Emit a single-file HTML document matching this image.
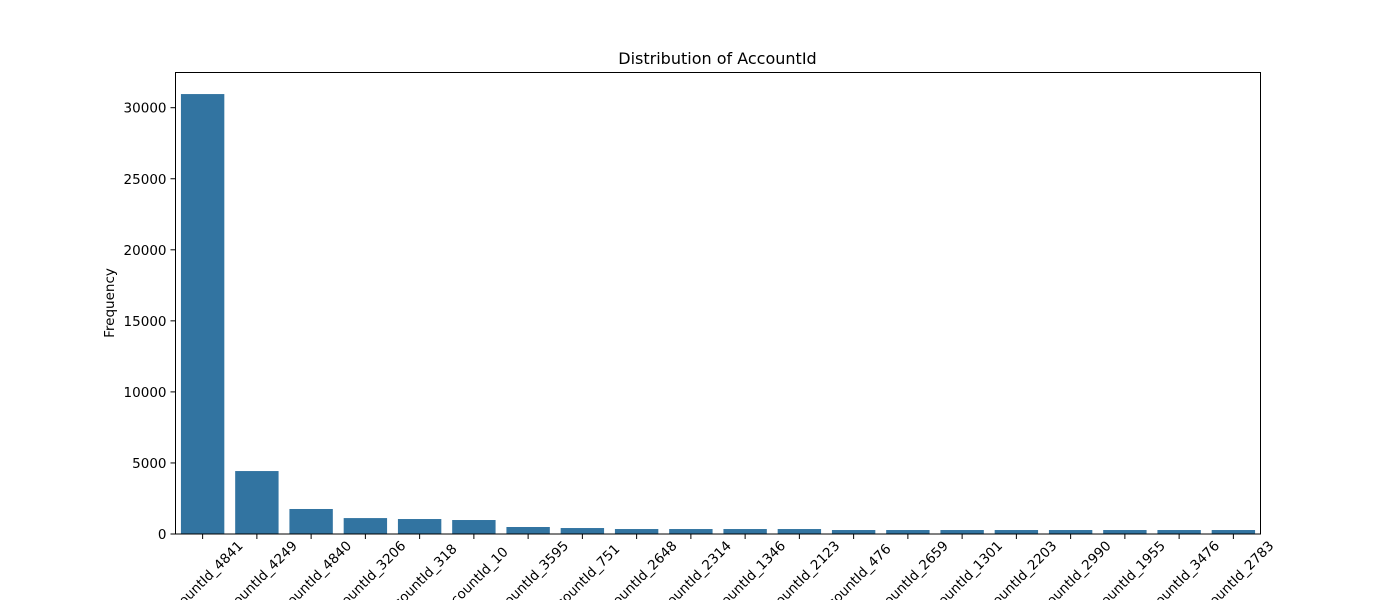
<!DOCTYPE html>
<html><head><meta charset="utf-8"><style>body{margin:0;background:#fff}svg{display:block;font-family:"DejaVu Sans","Liberation Sans",sans-serif}</style></head>
<body>
<svg id="chart" width="1400" height="600" xmlns="http://www.w3.org/2000/svg">
<rect width="1400" height="600" fill="#fff"/>
<text x="717.5" y="64" font-size="16" text-anchor="middle">Distribution of AccountId</text>
<text transform="translate(114,303) rotate(-90)" font-size="13.5" text-anchor="middle">Frequency</text>
<g id="bars"></g><g id="xticks"></g><g id="yticks"></g>
<rect x="175.5" y="72.5" width="1085" height="461.5" fill="none" stroke="#000" stroke-width="1"/>
</svg>
<script>
const categories=["AccountId_4841","AccountId_4249","AccountId_4840","AccountId_3206","AccountId_318","AccountId_10","AccountId_3595","AccountId_751","AccountId_2648","AccountId_2314","AccountId_1346","AccountId_2123","AccountId_476","AccountId_2659","AccountId_1301","AccountId_2203","AccountId_2990","AccountId_1955","AccountId_3476","AccountId_2783"];
const counts=[30960,4430,1760,1120,1054,984,492,420,350,350,350,350,280,280,280,280,280,280,280,280];
const yTicks=[0,5000,10000,15000,20000,25000,30000];
const NS="http://www.w3.org/2000/svg";
const x0=175.5,x1=1260.5,yb=534,yt=107.7,ymax=30000;
const step=(x1-x0)/categories.length;
const X=i=>x0+step*(i+0.5);
const Y=v=>yb-(yb-yt)*v/ymax;
function mk(t,a){const e=document.createElementNS(NS,t);for(const k in a)e.setAttribute(k,a[k]);return e;}
const bars=document.getElementById('bars'),xt=document.getElementById('xticks'),yt2=document.getElementById('yticks');
categories.forEach((c,i)=>{
 const w=step*0.8;
 const r=mk('rect',{x:X(i)-w/2,y:Y(counts[i]),width:w,height:yb-Y(counts[i]),fill:'#3274a1'});
 
 
 bars.appendChild(r);
 const tk=mk('line',{x1:X(i),x2:X(i),y1:yb,y2:yb+5,stroke:'#000'});
 
 
 xt.appendChild(tk);
 const t=mk('text',{transform:`translate(${X(i)},${yb+48}) rotate(-45)`,'font-size':'13.5','text-anchor':'middle','dominant-baseline':'central'});
 t.textContent=c;
 
 
 xt.appendChild(t);
});
yTicks.forEach(v=>{
 const tk=mk('line',{x1:x0-5,x2:x0,y1:Y(v),y2:Y(v),stroke:'#000'});
 
 
 yt2.appendChild(tk);
 const t=mk('text',{x:x0-9,y:Y(v)+5,'font-size':'13.5','text-anchor':'end'});
 t.textContent=v;
 
 
 yt2.appendChild(t);
});
</script>
</body></html>
